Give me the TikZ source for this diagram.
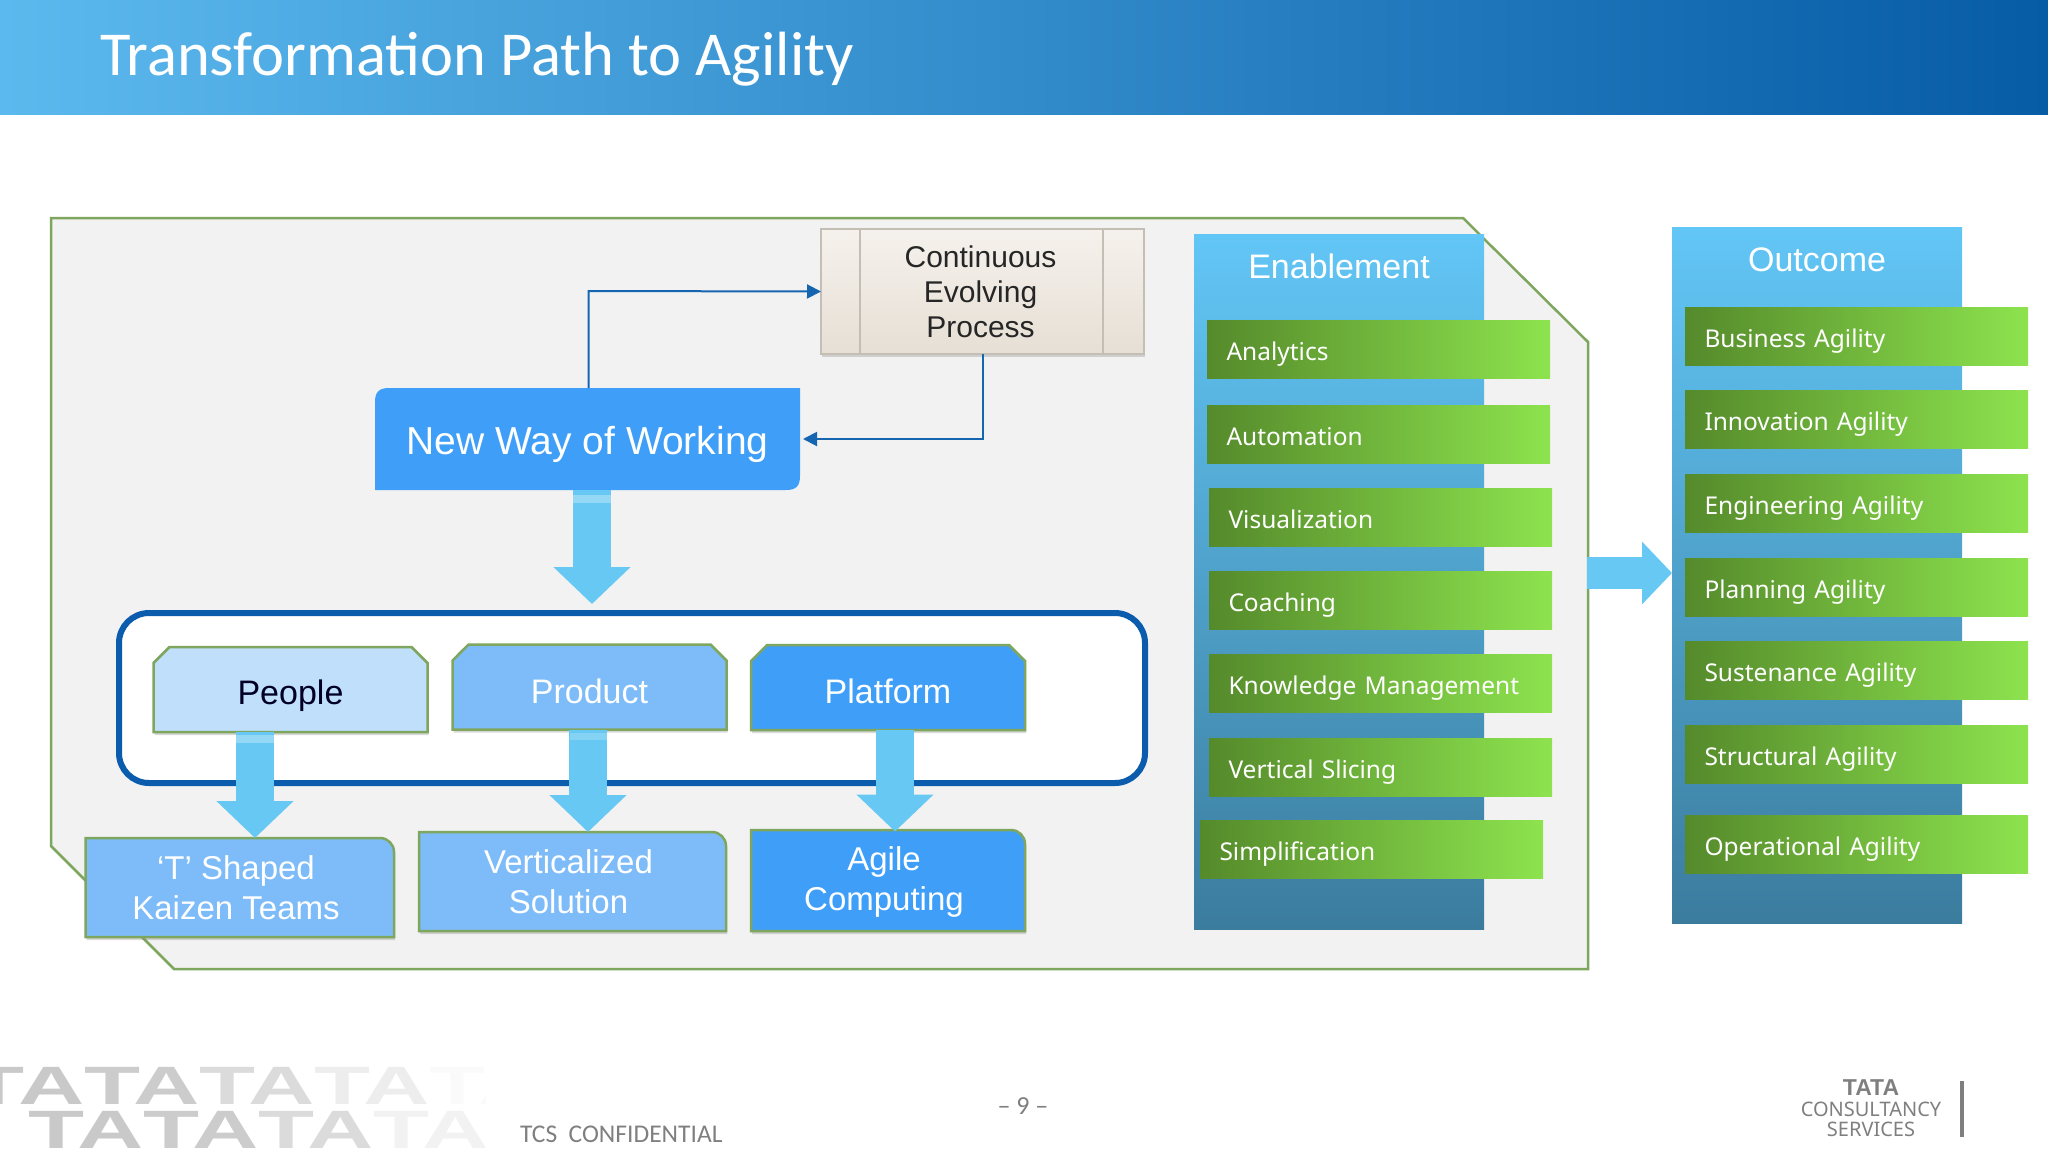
\documentclass[tikz,border=0pt]{standalone}
\usepackage{fontspec}
\setmainfont{Liberation Sans}
\newfontfamily\barfont{Noto Sans}
\newfontfamily\titlefont{Carlito}
\usetikzlibrary{calc, positioning}
\usetikzlibrary{arrows.meta}
\usetikzlibrary{shapes.misc, shadows}

\definecolor{headleft}{HTML}{5CB9EE}
\definecolor{headright}{HTML}{075CA6}
\definecolor{panelfill}{HTML}{F2F2F2}
\definecolor{panelline}{HTML}{7FA65E}
\definecolor{framecol}{HTML}{0B5CAD}
\definecolor{palebox}{HTML}{BFDFFB}
\definecolor{midbox}{HTML}{7DBCF8}
\definecolor{deepbox}{HTML}{3F9FF8}
\definecolor{fatcol}{HTML}{66C8F3}
\definecolor{beigetop}{HTML}{F5F1EC}
\definecolor{beigelow}{HTML}{E6DFD5}
\definecolor{beigeline}{HTML}{C4BEB4}
\definecolor{linecol}{HTML}{1565B0}
\definecolor{barleft}{HTML}{558A2B}
\definecolor{barmid}{HTML}{7CC63F}
\definecolor{barright}{HTML}{8DE34E}
\definecolor{columntop}{HTML}{62C6F6}
\definecolor{columnmid}{HTML}{4CAEDF}
\definecolor{columnlow}{HTML}{3B7C9E}
\definecolor{footgrey}{HTML}{7F7F7F}

\tikzset{
  softshadow/.style={drop shadow={shadow xshift=1pt,shadow yshift=-3pt,opacity=.3}},
  lettered/.style={inner sep=0pt, outer sep=0pt, align=center},
  snipbox/.style={lettered, chamfered rectangle, chamfered rectangle corners={north west,north east},
    chamfered rectangle xsep=8pt, chamfered rectangle ysep=8pt, draw=panelline, line width=2.5pt,
    minimum width=274pt, minimum height=85pt, text depth=0pt, font=\fontsize{34}{40}\selectfont, softshadow},
  cornerbox/.style={draw=panelline, line width=2.5pt, softshadow},
  boxtext/.style={lettered, text=white, font=\fontsize{33}{40}\selectfont},
  flowline/.style={draw=linecol, line width=2pt, -{Triangle[length=14pt,width=14pt]}},
  fatarrow/.style={draw=fatcol, line width=38pt, -{Triangle[length=37pt,width=75pt]}},
  column/.style={lettered, minimum width=290pt, top color=columntop, middle color=columnmid, bottom color=columnlow},
  columntitle/.style={lettered, text=white, font=\fontsize{34}{40}\selectfont},
  greenbar/.style={lettered, anchor=north west, minimum width=343pt, minimum height=58pt, text width=304pt,
    text height=22pt, text depth=0pt, left color=barleft, middle color=barmid, right color=barright,
    text=white, align=left, font=\barfont\fontsize{24.5}{28}\selectfont},
  taletter/.style={lettered, font=\bfseries\fontsize{54}{54}\selectfont, xscale=1.7, transform shape},
  footer/.style={lettered, text=footgrey}
}

\begin{document}
\begin{tikzpicture}[x=1pt,y=-1pt]
\useasboundingbox (0,0) rectangle (2048,1152);

\fill[left color=headleft, right color=headright] (0,0) rectangle (2048,114);
\node[lettered, anchor=west, text=white, font=\titlefont\fontsize{62.5}{68}\selectfont] (pagetitle) at (100,59) {Transformation Path to Agility};

\fill[left color=white, middle color=black!22, right color=white] (0,1062) rectangle (2048,1064);
\begin{scope}
\clip (0,1066) rectangle (485,1152);
\foreach \tacount/\tashade in {0/21,1/20,2/14,3/7,4/2}{
  \node[taletter, text=black!\tashade, anchor=north west] (tatop\tacount) at (-31+115*\tacount,1067) {TA};
}
\foreach \tacount/\tashade in {0/21,1/20,2/14,3/5}{
  \node[taletter, text=black!\tashade, anchor=north west] (talow\tacount) at (28+115*\tacount,1111) {TA};
}
\end{scope}
\node[footer, anchor=west, font=\titlefont\fontsize{25.5}{28}\selectfont] (confidential) at (520,1134) {TCS\ \ CONFIDENTIAL};
\node[footer, font=\titlefont\fontsize{26}{28}\selectfont] (pagenum) at (1023,1106) {– 9 –};
\node[footer, font=\bfseries\fontsize{23}{24}\selectfont] (logotata) at (1871,1088) {TATA};
\node[footer, font=\barfont\fontsize{20}{22}\selectfont] (logoconsult) at (1871,1109) {CONSULTANCY};
\node[footer, font=\barfont\fontsize{20}{22}\selectfont] (logoservices) at (1871,1129) {SERVICES};
\fill[footgrey] (1960,1081) rectangle (1964,1137);

\filldraw[fill=panelfill, draw=panelline, line width=2.5pt] (51,218) -- (1463,218) -- (1588,342) -- (1588,969) -- (174,969) -- (51,846) -- cycle;

\node[lettered, draw=beigeline, line width=1.5pt, top color=beigetop, bottom color=beigelow, minimum width=323pt, minimum height=125pt, softshadow, text=black!85, font=\fontsize{30}{35}\selectfont] (evolving) at (982.5,291.5) {\hspace*{-4pt}Continuous\\\hspace*{-4pt}Evolving\\\hspace*{-4pt}Process};
\draw[beigeline, line width=1.5pt] (860,229) -- (860,354) (1103,229) -- (1103,354);

\fill[deepbox] (375,402) .. controls (375,392) and (379,388) .. (389,388) -- (800,388) -- (800,476) .. controls (800,486) and (796,490) .. (786,490) -- (375,490) -- cycle;
\node[boxtext, minimum width=425pt, minimum height=102pt, text height=30pt, text depth=0pt, font=\fontsize{39}{44}\selectfont] (newway) at (587.5,439) {New Way of Working};

\draw[flowline] ($(newway.north)+(1,0)$) -- ++(0,-97) -- (evolving.west);
\draw[flowline] (evolving.south) |- ($(newway.east)+(3,0)$);

\draw[framecol, fill=white, line width=6pt, rounded corners=30pt] (119,613) rectangle (1145,783);
\coordinate (frametop) at (592,604);

\draw[fatarrow] ($(newway.south)+(4.5,0)$) -- (frametop);
\fill[white, opacity=.3] (573,495) rectangle (611,503);

\node[snipbox, fill=palebox, text=black!85!blue, text height=29pt] (people) at (290.5,689.5) {People};
\node[snipbox, fill=midbox, text=white, text height=32pt] (product) at (589.5,687) {Product};
\node[snipbox, fill=deepbox, text=white, text height=32pt] (platform) at (888,687.5) {Platform};

\filldraw[cornerbox, fill=midbox] (85.5,838) [rounded corners=14pt] -- (394,838) [sharp corners] -- (394,937) -- (85.5,937) -- cycle;
\node[boxtext, minimum width=308pt, minimum height=99pt] (tshaped) at (236,887.5) {`T' Shaped\\Kaizen Teams};
\filldraw[cornerbox, fill=midbox] (419,832) [rounded corners=14pt] -- (726,832) [sharp corners] -- (726,931) -- (419,931) -- cycle;
\node[boxtext, minimum width=307pt, minimum height=99pt] (vertical) at (568.5,881.5) {Verticalized\\Solution};
\filldraw[cornerbox, fill=deepbox] (751,830) [rounded corners=14pt] -- (1025,830) [sharp corners] -- (1025,931) -- (751,931) -- cycle;
\node[boxtext, minimum width=274pt, minimum height=101pt] (agile) at (884,882) {Agile\\Computing};

\draw[fatarrow] ($(people.south)+(-35.5,0)$) -- ($(tshaped.north)+(19,0)$);
\draw[fatarrow] ($(product.south)+(-1.5,0)$) -- ($(vertical.north)+(19.5,0)$);
\draw[fatarrow] ($(platform.south)+(7,0)$) -- ($(agile.north)+(11,0)$);
\fill[white, opacity=.3] (236,735) rectangle (274,743);
\fill[white, opacity=.2] (569.5,733) rectangle (607.5,740);

\node[column, minimum height=695pt] (enablement) at (1339,581.5) {};
\node[columntitle] (enabletitle) at (1339,266) {Enablement};
\foreach \barname/\barx/\bary/\barlabel in {
  analytics/1207/320/Analytics, automation/1207/405/Automation, visualization/1209/488/Visualization,
  coaching/1209/571/Coaching, knowledge/1209/654/Knowledge Management,
  slicing/1209/738/Vertical Slicing, simplification/1200/820/Simplification}{
  \node[greenbar] (\barname) at (\barx,\bary) {\barlabel};
}

\node[column, minimum height=696pt] (outcome) at (1817,575) {};
\node[columntitle] (outcometitle) at (1817,260) {Outcome};
\foreach \barname/\bary/\barlabel in {
  businessag/307/Business Agility, innovationag/390/Innovation Agility, engineeringag/474/Engineering Agility,
  planningag/558/Planning Agility, sustenanceag/641/Sustenance Agility,
  structuralag/725/Structural Agility, operationalag/815/Operational Agility}{
  \node[greenbar] (\barname) at (1685,\bary) {\barlabel};
}

\coordinate (paneledge) at (1587,573);
\draw[fatarrow, line width=32pt, -{Triangle[length=30pt,width=61pt]}] (paneledge) -- (outcome.west |- paneledge);
\end{tikzpicture}
\end{document}
